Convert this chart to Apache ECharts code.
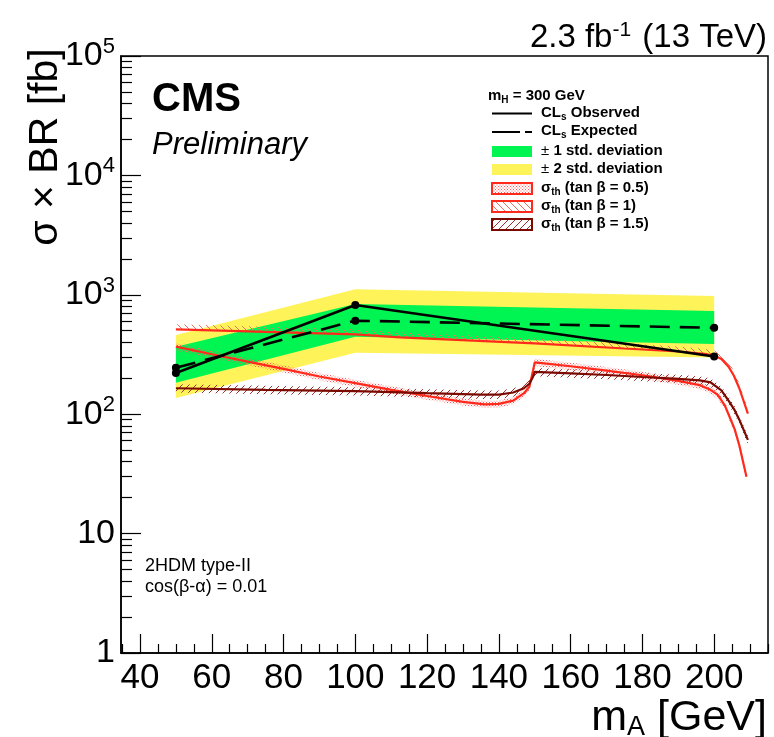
<!DOCTYPE html>
<html><head><meta charset="utf-8">
<script src="https://cdn.jsdelivr.net/npm/echarts@6/dist/echarts.min.js"></script>
<style>html,body{margin:0;padding:0;background:#fff}#c{width:774px;height:737px}</style>
</head><body><div id="c"></div>
<script>
// ---------------- data ----------------
const massPoints = [50, 100, 200];
const observed   = [221, 822, 304];
const expected   = [245, 607, 529];
const band1Low   = [183, 446, 387];
const band1High  = [368, 837, 731];
const band2Low   = [137, 327, 298];
const band2High  = [460, 1112, 977];

const th05Mass  = [50, 60, 70, 80, 90, 100, 110, 120, 130, 136, 140, 144, 147, 148.5, 149.5, 150, 160, 170, 180, 190, 196, 199, 201, 203, 205.7, 207, 209];
const th05Xsec  = [368, 318, 276, 240, 207, 182, 160, 142, 127, 121, 122, 130, 150, 170, 230, 272, 252, 232, 212, 190, 175, 160, 145, 118, 75, 55, 30];
const th1Mass   = [50, 75, 100, 112.5, 125, 150, 175, 190, 198, 200, 202, 204, 205.5, 207, 209.4];
const th1Xsec   = [514, 490, 467, 440, 424, 392, 355, 335, 318, 310, 290, 250, 210, 165, 101];
const th15Mass  = [50, 75, 100, 120, 135, 140, 144, 147, 148.5, 149.5, 150, 160, 170, 180, 190, 196, 199, 202, 204, 205.7, 207, 209.4];
const th15Xsec  = [165, 160, 156, 150, 146, 146, 152, 165, 180, 205, 226, 220, 213, 205, 198, 192, 185, 158, 130, 108, 90, 61];
const th05RelUnc = 0.07;
const th1RelUnc  = 0.10;
const th15RelUnc = 0.08;

const xMajorTicks = [40, 60, 80, 100, 120, 140, 160, 180, 200];
const xMinorTicks = [35, 45, 50, 55, 65, 70, 75, 85, 90, 95, 105, 110, 115, 125, 130, 135, 145, 150, 155, 165, 170, 175, 185, 190, 195, 205, 210, 215];
const yMajorTicks = [1, 10, 100, 1000, 10000, 100000];
const yMinorTicks = [];
for (let d = 1; d <= 10000; d *= 10) for (let k = 2; k <= 9; k++) yMinorTicks.push(k * d);

// ---------------- helpers ----------------
const FONT = "'Liberation Sans', Arial, Helvetica, sans-serif";
function hatch(color, dir, s, lw) {
  const c = document.createElement('canvas'); c.width = s; c.height = s;
  const g = c.getContext('2d'); g.strokeStyle = color; g.lineWidth = lw; g.beginPath();
  for (let k = -1; k <= 1; k++) {
    if (dir === 'back') { g.moveTo(k * s, 0); g.lineTo(k * s + s, s); }
    else { g.moveTo(k * s + s, 0); g.lineTo(k * s, s); }
  }
  g.stroke();
  return { image: c, repeat: 'repeat' };
}
function dots(color, s) {
  const c = document.createElement('canvas'); c.width = s; c.height = s;
  const g = c.getContext('2d'); g.fillStyle = color; g.fillRect(0, 0, 1, 1); g.fillRect(s / 2, s / 2, 1, 1);
  return { image: c, repeat: 'repeat' };
}
const patDots = dots('#ff5a5a', 3);
const patBack = hatch('#e8705e', 'back', 7, 1);
const patFwd  = hatch('#a0302a', 'fwd', 7, 1);

function band(xs, lo, hi, fill, z) {
  return {
    type: 'custom', coordinateSystem: 'cartesian2d', z: z, silent: true,
    data: xs.map((x, i) => [x, lo[i], hi[i]]),
    encode: { x: 0, y: [1, 2] },
    renderItem: (params, api) => {
      if (params.dataIndex !== 0) return null;
      const top = xs.map((x, i) => api.coord([x, hi[i]]));
      const bot = xs.map((x, i) => api.coord([x, lo[i]])).reverse();
      return { type: 'polygon', shape: { points: top.concat(bot) }, style: { fill: fill, stroke: null } };
    }
  };
}
function pairs(xs, ys) { return xs.map((x, i) => [x, ys[i]]); }
function line(xs, ys, color, width, type, z, sym) {
  return {
    type: 'line', data: pairs(xs, ys), z: z, silent: true,
    symbol: sym ? 'circle' : 'none', symbolSize: 8,
    itemStyle: { color: color }, lineStyle: { color: color, width: width, type: type || 'solid' }
  };
}

const RED = '#ff2a1c', DRED = '#7a0a00';

const series = [
  band(massPoints, band2Low, band2High, '#fff35a', 1),
  band(massPoints, band1Low, band1High, '#00f552', 2),
  band(th05Mass, th05Xsec.map(v => v * (1 - th05RelUnc)), th05Xsec.map(v => v * (1 + th05RelUnc)), patDots, 3),
  band(th1Mass, th1Xsec, th1Xsec.map(v => v * (1 + th1RelUnc)), patBack, 3),
  band(th15Mass, th15Xsec.map(v => v * (1 - th15RelUnc)), th15Xsec.map(v => v * (1 + th15RelUnc)), patFwd, 3),
  line(th05Mass, th05Xsec, RED, 2.2, 'solid', 4),
  line(th1Mass, th1Xsec, RED, 2.2, 'solid', 4),
  line(th15Mass, th15Xsec, DRED, 2.2, 'solid', 4),
  line(massPoints, expected, '#000', 2.6, [20, 10], 5, true),
  line(massPoints, observed, '#000', 2.6, 'solid', 5, true)
];

// ---------------- legend (graphic) ----------------
const LX = 492, LW = 40, TX = 541;
const rich = {
  a: { fontFamily: FONT, fontWeight: 'bold', fontSize: 15 },
  s: { fontFamily: FONT, fontWeight: 'bold', fontSize: 10, padding: [9, 0, 0, 0] },
  p: { fontFamily: FONT, fontSize: 15 }
};
function ltext(y, txt) {
  return { type: 'text', x: TX, y: y, style: { text: txt, rich: rich, verticalAlign: 'middle', fill: '#000', font: 'bold 15px ' + FONT } };
}
const legend = [
  { type: 'text', x: 488, y: 96, style: { text: '{a|m}{s|H}{a| = 300 GeV}', rich: rich, verticalAlign: 'middle', fill: '#000' } },
  { type: 'line', shape: { x1: LX, y1: 113.5, x2: LX + LW, y2: 113.5 }, style: { stroke: '#000', lineWidth: 2 } },
  ltext(113, '{a|CL}{s|s}{a| Observed}'),
  { type: 'line', shape: { x1: LX, y1: 132, x2: LX + 28, y2: 132 }, style: { stroke: '#000', lineWidth: 2 } },
  { type: 'line', shape: { x1: LX + 33, y1: 132, x2: LX + LW, y2: 132 }, style: { stroke: '#000', lineWidth: 2 } },
  ltext(131, '{a|CL}{s|s}{a| Expected}'),
  { type: 'rect', shape: { x: LX, y: 146, width: LW, height: 11 }, style: { fill: '#00f552' } },
  ltext(151, '{p|±}{a| 1 std. deviation}'),
  { type: 'rect', shape: { x: LX, y: 164, width: LW, height: 11 }, style: { fill: '#fff35a' } },
  ltext(169, '{p|±}{a| 2 std. deviation}'),
  { type: 'rect', shape: { x: LX, y: 183, width: LW, height: 11 }, style: { fill: patDots, stroke: RED, lineWidth: 2 } },
  ltext(188, '{a|σ}{s|th}{a| (tan β = 0.5)}'),
  { type: 'rect', shape: { x: LX, y: 201, width: LW, height: 11 }, style: { fill: patBack, stroke: RED, lineWidth: 2 } },
  ltext(206, '{a|σ}{s|th}{a| (tan β = 1)}'),
  { type: 'rect', shape: { x: LX, y: 219, width: LW, height: 11 }, style: { fill: patFwd, stroke: DRED, lineWidth: 2 } },
  ltext(224, '{a|σ}{s|th}{a| (tan β = 1.5)}')
];

const texts = [
  { type: 'text', x: 152, y: 100, style: { text: 'CMS', font: 'bold 40px ' + FONT, fill: '#000', verticalAlign: 'middle' } },
  { type: 'text', x: 152, y: 145, style: { text: 'Preliminary', font: 'italic 31px ' + FONT, fill: '#000', verticalAlign: 'middle' } },
  { type: 'text', x: 767, y: 38, style: { text: '{n|2.3 fb}{u|-1}{n| (13 TeV)}', align: 'right', verticalAlign: 'middle', fill: '#000',
      rich: { n: { fontFamily: FONT, fontSize: 33 }, u: { fontFamily: FONT, fontSize: 21, padding: [0, 2, 15, 0] } } } },
  { type: 'text', x: 46, y: 147, rotation: Math.PI / 2, style: { text: 'σ × BR [fb]', font: '41px ' + FONT, fill: '#000', align: 'center', verticalAlign: 'middle' } },
  { type: 'text', x: 767, y: 718, style: { text: '{n|m}{d|A}{n| [GeV]}', align: 'right', verticalAlign: 'middle', fill: '#000',
      rich: { n: { fontFamily: FONT, fontSize: 43 }, d: { fontFamily: FONT, fontSize: 27, padding: [19, 0, 0, 0] } } } },
  { type: 'text', x: 145, y: 566, style: { text: '2HDM type-II', font: '18px ' + FONT, fill: '#000', verticalAlign: 'middle' } },
  { type: 'text', x: 145, y: 587, style: { text: 'cos(β-α) = 0.01', font: '18px ' + FONT, fill: '#000', verticalAlign: 'middle' } }
];

const X0 = 34.7, X1 = 215;
const option = {
  animation: false,
  backgroundColor: '#fff',
  grid: { left: 121, right: 6, top: 56, bottom: 84, show: true, borderColor: '#000', borderWidth: 1.5, backgroundColor: 'transparent' },
  xAxis: [
    { type: 'value', min: X0, max: X1, position: 'bottom',
      axisLine: { lineStyle: { color: '#000', width: 1.5 } },
      axisTick: { inside: true, length: 19, customValues: xMajorTicks, lineStyle: { color: '#000', width: 1.2 } },
      axisLabel: { customValues: xMajorTicks, fontFamily: FONT, fontSize: 35, color: '#000', margin: 8 },
      splitLine: { show: false } },
    { type: 'value', min: X0, max: X1, position: 'bottom',
      axisLine: { show: false },
      axisTick: { inside: true, length: 9, customValues: xMinorTicks, lineStyle: { color: '#000', width: 1.2 } },
      axisLabel: { show: false }, splitLine: { show: false } }
  ],
  yAxis: [
    { type: 'log', logBase: 10, min: 1, max: 100000, position: 'left',
      axisLine: { show: true, lineStyle: { color: '#000', width: 1.5 } },
      axisTick: { inside: true, length: 20, customValues: yMajorTicks, lineStyle: { color: '#000', width: 1.2 } },
      axisLabel: { customValues: yMajorTicks, fontFamily: FONT, fontSize: 34, color: '#000', margin: 6,
        formatter: v => { const e = Math.round(Math.log10(v)); if (e === 0) return '1'; if (e === 1) return '10'; return '{b|10}{s|' + e + '}'; },
        rich: { b: { fontFamily: FONT, fontSize: 34 }, s: { fontFamily: FONT, fontSize: 22, padding: [0, 0, 18, 0] } } },
      splitLine: { show: false } },
    { type: 'log', logBase: 10, min: 1, max: 100000, position: 'left',
      axisLine: { show: false },
      axisTick: { inside: true, length: 11, customValues: yMinorTicks, lineStyle: { color: '#000', width: 1.2 } },
      axisLabel: { show: false }, splitLine: { show: false } }
  ],
  series: series,
  graphic: legend.concat(texts)
};
const chart = echarts.init(document.getElementById('c'), null, { renderer: 'canvas' });
chart.setOption(option);
</script></body></html>
